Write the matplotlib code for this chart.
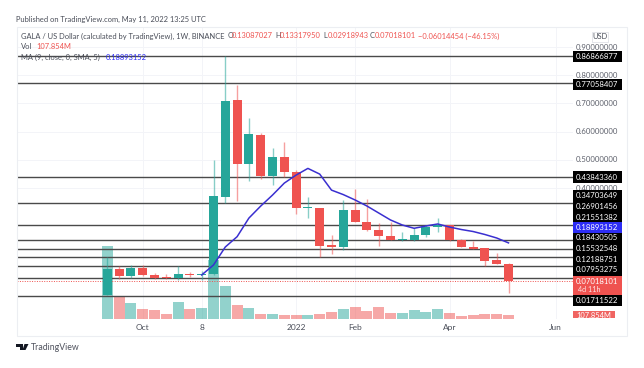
import matplotlib
matplotlib.use("Agg")
import matplotlib.pyplot as plt
from matplotlib.patches import Rectangle, Polygon

plt.rcParams['font.family'] = ['Lato', 'DejaVu Sans']

# weekly candles
opens = [.0206, .1117, .0890, .1153, .0915, .0855, .0809, .0961, .0915, .0940, .3692, .7110,
         .4851, .5890, .4426, .5110, .4557, .3302, .3302, .1968, .1919, .3209, .2795, .2522,
         .2309, .2156, .2156, .2333, .2628, .2688, .2156, .1919, .1862, .1436, .1309]
highs = [.1550, .1234, .1270, .1270, .0997, .0940, .1234, .1032, .1057, .4993, .8687, .7653,
         .6472, .5961, .5408, .5621, .4638, .3692, .3302, .2333, .3575, .3965, .3600, .2749,
         .2784, .2451, .2571, .2688, .2926, .2688, .2192, .2110, .1862, .1685, .1332]
lows = [.0200, .0784, .0809, .0890, .0773, .0773, .0738, .0855, .0738, .0915, .3458, .3550,
        .4259, .4330, .4117, .4401, .3078, .2926, .1564, .1649, .1802, .2795, .2475, .1954,
        .2156, .2132, .2121, .2273, .2451, .2132, .1919, .1837, .1217, .1305, .0292]
closes = [.1128, .0880, .1153, .0915, .0819, .0809, .0950, .0915, .0940, .3717, .7096, .4851,
          .5915, .4426, .5089, .4557, .3302, .3316, .1954, .1919, .3209, .2795, .2511, .2309,
          .2156, .2181, .2333, .2617, .2688, .2156, .1919, .1848, .1422, .1316, .0702]
volumes = [2298, 713, 482, 292, 270, 143, 533, 292, 323, 1854, 1030, 418, 342, 143, 143, 111,
           111, 111, 152, 197, 311, 374, 238, 374, 174, 174, 260, 206, 311, 184, 89, 111, 143,
           143, 108]

# 9 week moving average, starts at candle 8
ma_start = 8
ma_values = [.0915, .1270, .1908, .2273, .2933, .3359, .3749, .4174, .4458, .4695, .4493, .3925,
             .3766, .3575, .3362, .3114, .2866, .2688, .2571, .2653, .2724, .2617, .2528, .2457,
             .2351, .2227, .2054]

level_values = [.86866877, .77058407, .43843360, .34703649, .26901456, .21551382, .18430505,
                .15532548, .12188751, .07953275, .01711522]
level_labels = ['0.86866877', '0.77058407', '0.43843360', '0.34703649', '0.26901456', '0.21551382',
                '0.18430505', '0.15532548', '0.12188751', '0.07953275', '0.01711522']
price_ticks = [.9, .8, .7, .6, .5, .4]
price_tick_labels = ['0.90000000', '0.80000000', '0.70000000', '0.60000000', '0.50000000', '0.40000000']
date_ticks = [3, 8, 16, 21, 29, 38]
date_labels = ['Oct', '8', '2022', 'Feb', 'Apr', 'Jun']
last_close = .07018101

GREEN = '#26a69a'
RED = '#ef5350'
TEXT = '#4a4e59'
W, H = 644, 368

fig = plt.figure(figsize=(W / 100, H / 100), dpi=100)


def px_text(x, y, s, **kw):
    # text placed in picture pixels, y counted from the top
    kw.setdefault('fontsize', 5.4)
    kw.setdefault('color', TEXT)
    kw.setdefault('va', 'center')
    return fig.text(x / W, 1 - y / H, s, **kw)


def px_box(x0, y0, x1, y1, **kw):
    fig.add_artist(Rectangle((x0 / W, 1 - y1 / H), (x1 - x0) / W, (y1 - y0) / H,
                             transform=fig.transFigure, **kw))


px_box(16.5, 27, 627, 336, facecolor='none', edgecolor='#eceef2', lw=0.8)

# axes span picture pixels x 16.5..572.5, y 27..318.5
left, right, top, bottom = 16.5, 572.5, 27, 318.5
ax = fig.add_axes([left / W, 1 - bottom / H, (right - left) / W, (bottom - top) / H])
ax.set_xlim((left - 107.3) / 11.8, (right - 107.3) / 11.8)
ax.set_ylim(.9 - (bottom - 47) / 282, .9 - (top - 47) / 282)
for s in ax.spines.values():
    s.set_visible(False)
ax.set_yticks(price_ticks)
ax.set_xticks(date_ticks)
ax.set_xticklabels(date_labels, fontsize=6, color=TEXT)
ax.tick_params(length=0, labelleft=False, pad=4)
ax.grid(True, color='#f3f4f8', lw=0.7)
ax.set_axisbelow(True)

# volume sits on its own scale, same panel
vol = ax.twinx()
vol.set_ylim(0, (bottom - top) * 31.7)
vol.axis('off')
vol.bar(range(len(volumes)), volumes, width=0.92,
        color=[GREEN if c >= o else RED for o, c in zip(opens, closes)], alpha=0.5, lw=0)

price = ax.twinx()
price.set_ylim(ax.get_ylim())
price.axis('off')

for v in level_values:
    price.axhline(v, color='#4a4a4a', lw=1.0, zorder=1)
price.axhline(last_close, color=RED, lw=0.7, ls=(0, (1, 1.5)), zorder=1)

for i in range(len(opens)):
    col = GREEN if closes[i] >= opens[i] else RED
    price.vlines(i, lows[i], highs[i], color=col, lw=1.0, alpha=0.55, zorder=2)
    price.bar(i, max(abs(closes[i] - opens[i]), .002), bottom=min(opens[i], closes[i]),
              width=0.76, color=col, lw=0, zorder=3)

price.plot(range(ma_start, ma_start + len(ma_values)), ma_values, color='#3a2fd0', lw=1.1, zorder=4)


# price scale, pixel y follows the same mapping as the axes
def y_px(p):
    return 47 + (.9 - p) * 282


for p, lab in zip(price_ticks, price_tick_labels):
    px_text(597, y_px(p), lab, ha='center', color='#5d606b', fontsize=5.6)

# USD button
px_box(591.7, 31.7, 608, 41.7, facecolor='white', edgecolor='#dfe1e6', lw=0.6)
px_text(600, 36.5, 'USD', ha='center')

# black boxes sit on the tight spacing of the real labels
label_pos = [56.5, 84.5, 177, 195.7, 206, 217, 238, 248.7, 259, 270, 300.3]
for lab, yc in zip(level_labels, label_pos):
    px_box(572.5, yc - 5.6, 621.5, yc + 5.6, facecolor='black', edgecolor='none', zorder=5)
    px_text(597, yc, lab, ha='center', color='white', fontsize=5.6, zorder=6)

px_box(572.5, 222, 621.5, 233, facecolor='#2d2df5', edgecolor='none', zorder=5)
px_text(597, 227.5, '0.18893152', ha='center', color='white', fontsize=5.6, zorder=6)

px_box(572.5, 275.5, 621.5, 295, facecolor=RED, edgecolor='none', zorder=5)
px_text(597, 281, '0.07018101', ha='center', color='white', fontsize=5.6, zorder=6)
px_text(578.5, 289.5, '4d 11h', color='#ffe3e3', fontsize=5.2, zorder=6)

px_box(572.5, 310.7, 614.5, 318.3, facecolor=RED, edgecolor='none', zorder=5, alpha=0.9)
px_text(593.5, 315, '107.854M', ha='center', color='white', zorder=6)

# header
px_text(16, 19, 'Published on TradingView.com, May 11, 2022 13:25 UTC')
px_text(21, 36, 'GALA / US Dollar (calculated by TradingView), 1W, BINANCE')
ohlc_bits = [(227.5, 'O', TEXT), (232, '0.13087027', RED), (275.5, 'H', TEXT), (280, '0.13317950', RED),
             (323.3, 'L', TEXT), (327.5, '0.02918943', RED), (370, 'C', TEXT), (375, '0.07018101', RED),
             (418, '\u22120.06014454 (\u221246.15%)', RED)]
for x, s, c in ohlc_bits:
    px_text(x, 36, s, color=c)
px_text(21, 46.5, 'Vol')
px_text(36, 46.5, '107.854M', color=RED)
px_text(21, 57, 'MA (9, close, 0, SMA, 5)', zorder=6)
px_text(106, 57, '0.18893152', color='#2d2df5', zorder=6)

# TradingView mark and name
fig.add_artist(Polygon([(16 / W, 1 - 344 / H), (23 / W, 1 - 344 / H), (23 / W, 1 - 350 / H), (20 / W, 1 - 350 / H),
                        (20 / W, 1 - 346.5 / H), (16 / W, 1 - 346.5 / H)],
                       transform=fig.transFigure, facecolor='#131722', edgecolor='none'))
fig.add_artist(Polygon([(24.5 / W, 1 - 344 / H), (28.5 / W, 1 - 344 / H), (25.5 / W, 1 - 350 / H), (22.5 / W, 1 - 350 / H)],
                       transform=fig.transFigure, facecolor='#131722', edgecolor='none'))
px_text(31, 347, 'TradingView', fontsize=6.3, color='#50535e')

fig.savefig('out.png', dpi=100)
